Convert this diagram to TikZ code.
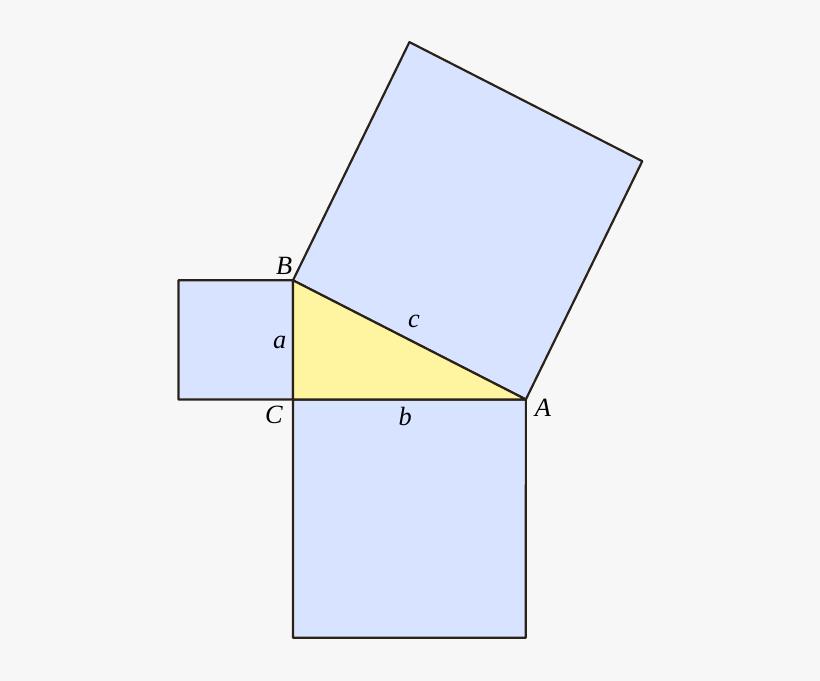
\documentclass[tikz,border=0pt]{standalone}
\usepackage{amssymb}
\usepackage{amsmath}
\usepackage{fontspec}
\usepackage{tikz}
\setmainfont{Liberation Serif}

\definecolor{bgcol}{RGB}{247,247,247}
\definecolor{sqcol}{RGB}{216,228,255}
\definecolor{tricol}{RGB}{255,245,160}
\definecolor{edgecol}{RGB}{42,34,24}

\begin{document}
\begin{tikzpicture}[xscale=0.777,yscale=0.795,
  square/.style={fill=sqcol,draw=edgecol,line width=1.25pt,line join=round},
  triangle/.style={fill=tricol,draw=edgecol,line width=1.25pt,line join=round},
  lab/.style={font=\fontsize{15}{17}\selectfont\itshape}]
% background
\fill[bgcol] (-7.55,-7.09) rectangle (13.58,10.06);
\useasboundingbox (-7.55,-7.09) rectangle (13.58,10.06);

\coordinate (C) at (0,0);
\coordinate (B) at (0,3);
\coordinate (A) at (6,0);

% squares on the sides
\draw[square] (C) -- (B) -- (-2.95,3) -- (-2.95,0) -- cycle;
\draw[square] (C) -- (A) -- (6,-6) -- (0,-6) -- cycle;
\draw[square] (B) -- (A) -- (9,6) -- (3,9) -- cycle;
% triangle
\draw[triangle] (A) -- (B) -- (C) -- cycle;

% vertices
\node[lab] (labA) at (6.44,-0.20) {A};
\node[lab] (labB) at (-0.23,3.36) {B};
\node[lab] (labC) at (-0.49,-0.38) {C};
% sides
\node[lab] (laba) at (-0.34,1.44) {a};
\node[lab] (labb) at (2.89,-0.43) {b};
\node[lab] (labc) at (3.12,1.97) {c};
\end{tikzpicture}
\end{document}
